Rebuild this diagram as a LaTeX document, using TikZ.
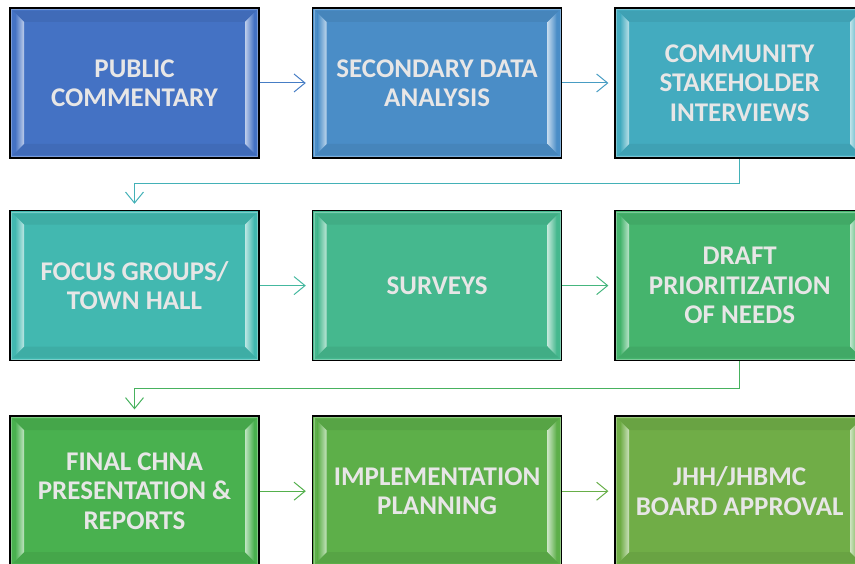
\documentclass[tikz,border=0pt]{standalone}
\usepackage{fontspec}
\setmainfont{Carlito}
\usetikzlibrary{positioning,arrows.meta,calc}

\definecolor{stagetext}{HTML}{E7E6E6}
\definecolor{stepA}{HTML}{4472C4}
\definecolor{stepB}{HTML}{4A8DC7}
\definecolor{stepC}{HTML}{43ABBF}
\definecolor{stepD}{HTML}{42B8B0}
\definecolor{stepE}{HTML}{45B88E}
\definecolor{stepF}{HTML}{45B46D}
\definecolor{stepG}{HTML}{49B14F}
\definecolor{stepH}{HTML}{5DAF49}
\definecolor{stepI}{HTML}{70AD47}

\begin{document}
\begin{tikzpicture}[x=1pt,y=1pt,
    stage/.style={draw=black, line width=1.6pt, fill=#1, inner sep=0pt,
      minimum width=249pt, minimum height=150pt, align=center,
      text=stagetext, font=\fontsize{27}{29.5}\selectfont\bfseries,
      path picture={
        \path let \p1=(path picture bounding box.south west),
                  \p2=(path picture bounding box.north east) in
          [fill=#1!92!white] (\x1+3,\y2-3) -- (\x2-3,\y2-3) -- (\x2-14,\y2-14) -- (\x1+14,\y2-14) -- cycle
          [fill=#1!94!black] (\x1+3,\y1+3) -- (\x2-3,\y1+3) -- (\x2-14,\y1+14) -- (\x1+14,\y1+14) -- cycle;
        \path let \p1=(path picture bounding box.south west),
                  \p2=(path picture bounding box.north east) in
          [left color=#1, right color=white!65!#1]
          (\x1+5,\y1+5) -- (\x1+14,\y1+14) -- (\x1+14,\y2-14) -- (\x1+5,\y2-5) -- cycle;
        \path let \p1=(path picture bounding box.south west),
                  \p2=(path picture bounding box.north east) in
          [left color=white!65!#1, right color=#1]
          (\x2-5,\y1+5) -- (\x2-14,\y1+14) -- (\x2-14,\y2-14) -- (\x2-5,\y2-5) -- cycle;
        \draw[#1!70!white, line width=1pt] let \p1=(path picture bounding box.south west),
                  \p2=(path picture bounding box.north east) in
          (\x1+1.5,\y1+1.5) rectangle (\x2-1.5,\y2-1.5);
      }},
    flow/.style={draw=#1, line width=1pt, shorten >=6pt,
      -{Straight Barb[length=11pt,width=18pt]}}
  ]
  \useasboundingbox (0,0) rectangle (855,563);

  % first row
  \node[stage=stepA] (pub) at (134.5,480) {PUBLIC\\COMMENTARY};
  \node[stage=stepB, right=52pt of pub] (sec) {SECONDARY DATA\\ANALYSIS};
  \node[stage=stepC, right=52pt of sec] (csi) {COMMUNITY\\STAKEHOLDER\\INTERVIEWS};
  % second row
  \node[stage=stepD, below=51pt of pub] (foc) {FOCUS GROUPS/\\TOWN HALL};
  \node[stage=stepE, right=52pt of foc] (sur) {SURVEYS};
  \node[stage=stepF, right=52pt of sur] (dpn) {DRAFT\\PRIORITIZATION\\OF NEEDS};
  % third row
  \node[stage=stepG, below=54pt of foc] (fin) {FINAL CHNA\\PRESENTATION \&\\REPORTS};
  \node[stage=stepH, right=52pt of fin] (imp) {IMPLEMENTATION\\PLANNING};
  \node[stage=stepI, right=52pt of imp] (brd) {JHH/JHBMC\\BOARD APPROVAL};

  \draw[flow=stepA!60!stepB] (pub) -- (sec);
  \draw[flow=stepB!50!stepC] (sec) -- (csi);
  \draw[flow=stepC!50!stepD] (csi.south) -- ++(0,-25) -| (foc.north);
  \draw[flow=stepD!50!stepE] (foc) -- (sur);
  \draw[flow=stepE!50!stepF] (sur) -- (dpn);
  \draw[flow=stepF!50!stepG] (dpn.south) -- ++(0,-27) -| (fin.north);
  \draw[flow=stepG!50!stepH] (fin) -- (imp);
  \draw[flow=stepH!50!stepI] (imp) -- (brd);
\end{tikzpicture}
\end{document}
